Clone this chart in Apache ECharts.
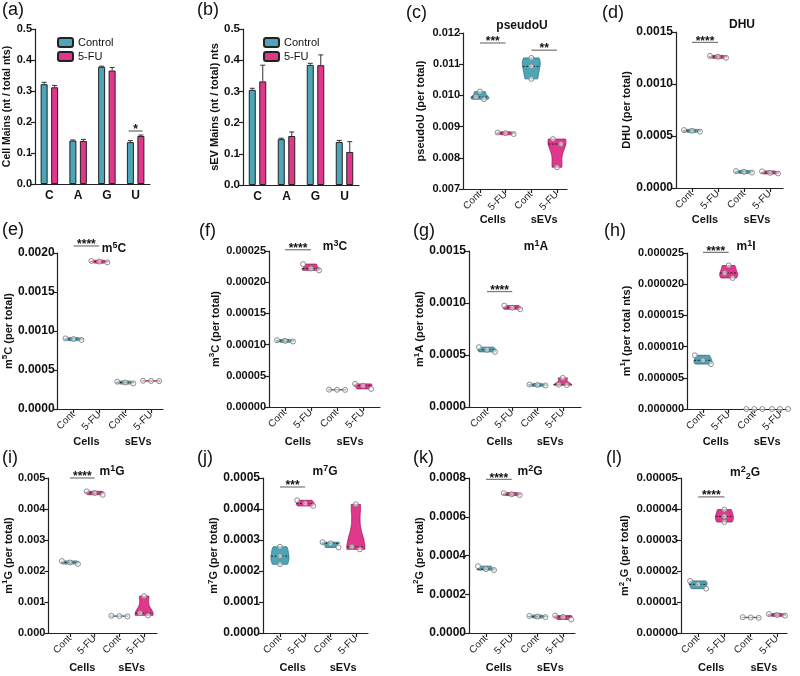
<!DOCTYPE html>
<html><head><meta charset="utf-8">
<script src="https://cdn.jsdelivr.net/npm/echarts@6/dist/echarts.min.js"></script>
<style>html,body{margin:0;padding:0;background:#fff}#c{width:800px;height:676px}</style>
</head><body><div id="c"></div>
<script>
// ---------------- DATA ----------------
const barCategories = ['C', 'A', 'G', 'U'];
const cellControl    = [0.322, 0.140, 0.378, 0.135];
const cellControlErr = [0.006, 0.002, 0.002, 0.005];
const cell5FU        = [0.312, 0.139, 0.366, 0.155];
const cell5FUErr     = [0.006, 0.005, 0.010, 0.003];
const sevControl     = [0.305, 0.147, 0.385, 0.138];
const sevControlErr  = [0.005, 0.003, 0.005, 0.005];
const sev5FU         = [0.332, 0.157, 0.384, 0.106];
const sev5FUErr      = [0.052, 0.013, 0.033, 0.033];
const sigCellMains = [[3, 0.171, '*']];
const sigSevMains = [];

const groupLabels = ['Cont', '5-FU', 'Cont', '5-FU'];
const sampleLabels = ['Cells', 'sEVs'];

// each: [Cells Cont, Cells 5-FU, sEVs Cont, sEVs 5-FU], three replicates each
const pseudoU = [[0.00988, 0.00995, 0.01012], [0.00876, 0.00879, 0.00881], [0.01053, 0.01093, 0.01120], [0.00770, 0.00844, 0.00860]];
const dhu     = [[0.000542, 0.000550, 0.000557], [0.001252, 0.001262, 0.001270], [0.000148, 0.000155, 0.000162], [0.000140, 0.000146, 0.000160]];
const m5C     = [[0.000885, 0.000897, 0.000905], [0.001880, 0.001890, 0.001898], [0.000328, 0.000340, 0.000350], [0.000358, 0.000360, 0.000362]];
const m3C     = [[0.000105, 0.000106, 0.000107], [0.000219, 0.000222, 0.000229], [0.0000274, 0.0000276, 0.0000278], [0.000029, 0.000034, 0.000037]];
const m1A     = [[0.000530, 0.000550, 0.000575], [0.000940, 0.000955, 0.000975], [0.000207, 0.000212, 0.000216], [0.000210, 0.000215, 0.000280]];
const m1I     = [[0.0000072, 0.0000078, 0.0000086], [0.0000210, 0.0000218, 0.0000230], [0, 0, 0], [0, 0, 0]];
const m1G     = [[0.002230, 0.002275, 0.002320], [0.004460, 0.004520, 0.004570], [0.000535, 0.000545, 0.000555], [0.00057, 0.00064, 0.00119]];
const m7G     = [[0.000222, 0.000248, 0.000278], [0.000410, 0.000418, 0.000428], [0.000276, 0.000289, 0.000293], [0.000270, 0.000278, 0.000415]];
const m2G     = [[0.000325, 0.000330, 0.000345], [0.000712, 0.000716, 0.000722], [0.000082, 0.000085, 0.000088], [0.000070, 0.000083, 0.000090]];
const m22G    = [[0.0000143, 0.0000157, 0.0000168], [0.0000358, 0.0000376, 0.0000398], [0.0000049, 0.0000050, 0.0000051], [0.0000056, 0.0000058, 0.0000061]];

// significance: [group a, group b, y level, label]
const sigPseudoU = [[1, 2, 0.01168, '***'], [3, 4, 0.01145, '**']];
const sigDHU  = [[1, 2, 0.00140, '****']];
const sigM5C  = [[1, 2, 0.00209, '****']];
const sigM3C  = [[1, 2, 0.000252, '****']];
const sigM1A  = [[1, 2, 0.00111, '****']];
const sigM1I  = [[1, 2, 0.0000251, '****']];
const sigM1G  = [[1, 2, 0.00500, '****']];
const sigM7G  = [[1, 2, 0.000471, '***']];
const sigM2G  = [[1, 2, 0.000793, '****']];
const sigM22G = [[1, 2, 0.0000439, '****']];

// ---------------- STYLE / LAYOUT ----------------
const FONT = '"Liberation Sans", Arial, Helvetica, sans-serif';
const TEAL = '#4CA6B8', MAG = '#E0378C';
const TEAL_EDGE = '#2B6F7E', MAG_EDGE = '#9E1C5C';
const AX = '#222';

const barPanels = [
  {ctrl: cellControl, ctrlErr: cellControlErr, fu: cell5FU, fuErr: cell5FUErr, sig: sigCellMains, fs: 11,
   grid: {left: 35, top: 29, width: 115, height: 155}, name: 'Cell Mains (nt / total nts)', nameSize: 10.5, nameGap: 15, legendLeft: 52, label: '(a)', lx: 2, ly: 1},
  {ctrl: sevControl, ctrlErr: sevControlErr, fu: sev5FU, fuErr: sev5FUErr, sig: sigSevMains, fs: 11.5,
   grid: {left: 243, top: 29, width: 116, height: 156}, name: 'sEV Mains (nt / total) nts', nameSize: 11, nameGap: 20, legendLeft: 258, label: '(b)', lx: 197, ly: 1}
];

const violinPanels = [
  {data: pseudoU, sig: sigPseudoU, grid: {left: 463, top: 33, width: 104, height: 156}, xmin: 0.34, xmax: 4.39, ymin: 0.007, ymax: 0.012, step: 0.001, dec: 3, fs: 11,
   name: '{n|pseudoU (per total)}', nameGap: 35, title: '{n|pseudoU}', tx: 522, ty: 26, row: 0, label: '(c)', lx: 406, ly: 4},
  {data: dhu, sig: sigDHU, grid: {left: 676, top: 32, width: 107, height: 156}, xmin: 0.385, xmax: 4.5, ymin: 0, ymax: 0.0015, step: 0.0005, dec: 4, fs: 12,
   name: '{n|DHU (per total)}', nameGap: 41, title: '{n|DHU}', tx: 742, ty: 25, row: 0, label: '(d)', lx: 602, ly: 4},
  {data: m5C, sig: sigM5C, grid: {left: 57, top: 253, width: 106, height: 156}, xmin: 0.385, xmax: 4.46, ymin: 0, ymax: 0.002, step: 0.0005, dec: 4, fs: 12,
   name: '{n|m}{s|5}{n|C (per total)}', nameGap: 39, title: '{n|m}{s|5}{n|C}', tx: 114, ty: 249, row: 1, label: '(e)', lx: 2, ly: 221},
  {data: m3C, sig: sigM3C, grid: {left: 269, top: 251, width: 111, height: 156}, xmin: 0.385, xmax: 4.65, ymin: 0, ymax: 0.00025, step: 0.00005, dec: 5, fs: 11,
   name: '{n|m}{s|3}{n|C (per total)}', nameGap: 46, title: '{n|m}{s|3}{n|C}', tx: 335, ty: 247, row: 1, label: '(f)', lx: 199, ly: 222},
  {data: m1A, sig: sigM1A, grid: {left: 469, top: 251, width: 112, height: 156}, xmin: 0.29, xmax: 4.72, ymin: 0, ymax: 0.0015, step: 0.0005, dec: 4, fs: 12,
   name: '{n|m}{s|1}{n|A (per total)}', nameGap: 40, title: '{n|m}{s|1}{n|A}', tx: 536, ty: 247, row: 1, label: '(g)', lx: 413, ly: 222},
  {data: m1I, sig: sigM1I, grid: {left: 687, top: 253, width: 100, height: 156}, xmin: 0.38, xmax: 4.27, ymin: 0, ymax: 0.000025, step: 0.000005, dec: 6, fs: 11,
   name: '{n|m}{s|1}{n|I (per total nts)}', nameGap: 53, title: '{n|m}{s|1}{n|I}', tx: 746, ty: 247, row: 1, label: '(h)', lx: 604, ly: 222},
  {data: m1G, sig: sigM1G, grid: {left: 46, top: 478, width: 111, height: 155}, xmin: 0.13, xmax: 4.52, ymin: 0, ymax: 0.005, step: 0.001, dec: 3, fs: 11,
   name: '{n|m}{s|1}{n|G (per total)}', nameGap: 32, title: '{n|m}{s|1}{n|G}', tx: 112, ty: 472, row: 2, label: '(i)', lx: 2, ly: 449},
  {data: m7G, sig: sigM7G, grid: {left: 263, top: 478, width: 105, height: 155}, xmin: 0.33, xmax: 4.48, ymin: 0, ymax: 0.0005, step: 0.0001, dec: 4, fs: 12,
   name: '{n|m}{s|7}{n|G (per total)}', nameGap: 41, title: '{n|m}{s|7}{n|G}', tx: 325, ty: 472, row: 2, label: '(j)', lx: 197, ly: 449},
  {data: m2G, sig: sigM2G, grid: {left: 469, top: 478, width: 106, height: 155}, xmin: 0.34, xmax: 4.46, ymin: 0, ymax: 0.0008, step: 0.0002, dec: 4, fs: 12,
   name: '{n|m}{s|2}{n|G (per total)}', nameGap: 42, title: '{n|m}{s|2}{n|G}', tx: 530, ty: 472, row: 2, label: '(k)', lx: 413, ly: 449},
  {data: m22G, sig: sigM22G, grid: {left: 681, top: 478, width: 106, height: 155}, xmin: 0.35, xmax: 4.38, ymin: 0, ymax: 0.00005, step: 0.00001, dec: 5, fs: 11.5,
   name: '{n|m}{s|2}{b|2}{n|G (per total)}', nameGap: 46, title: '{n|m}{s|2}{b|2}{n|G}', tx: 745, ty: 473, row: 2, label: '(l)', lx: 606, ly: 449}
];
const rowLabelY = [220, 442, 668];

function richSet(size, key) {
  const c = {};
  c[key] = '#111';
  const base = {fontFamily: FONT, fontWeight: 'bold'};
  return {
    n: Object.assign({fontSize: size, lineHeight: size + 4}, base, c),
    s: Object.assign({fontSize: size - 3, lineHeight: size - 3, verticalAlign: 'top'}, base, c),
    b: Object.assign({fontSize: size - 3, lineHeight: size - 3, verticalAlign: 'bottom'}, base, c)
  };
}

// ---------------- BUILD ----------------
const chart = echarts.init(document.getElementById('c'));
const option = {animation: false, backgroundColor: '#fff', textStyle: {fontFamily: FONT},
  grid: [], xAxis: [], yAxis: [], series: [], legend: []};

const axisLine = {show: true, lineStyle: {color: AX, width: 1.2}};
const axisTick = {show: true, length: 4, lineStyle: {color: AX, width: 1.2}};

let gi = 0;
barPanels.forEach(p => {
  option.grid.push(Object.assign({containLabel: false}, p.grid));
  option.xAxis.push({type: 'category', gridIndex: gi, data: barCategories, axisLine, axisTick: {show: false},
    axisLabel: {color: '#111', fontWeight: 'bold', fontSize: 12, margin: 6, fontFamily: FONT}});
  option.yAxis.push({type: 'value', gridIndex: gi, min: 0, max: 0.5, interval: 0.1, axisLine, axisTick, splitLine: {show: false},
    axisLabel: {color: '#111', fontWeight: 'bold', fontSize: p.fs, margin: 3, fontFamily: FONT, formatter: v => v.toFixed(1)},
    name: p.name, nameLocation: 'middle', nameRotate: 90, nameGap: p.nameGap,
    nameTextStyle: {fontWeight: 'bold', fontSize: p.nameSize, color: '#111', fontFamily: FONT}});
  const common = {type: 'bar', xAxisIndex: gi, yAxisIndex: gi, barWidth: 7, barGap: '50%'};
  option.series.push(Object.assign({name: 'Control', data: p.ctrl, itemStyle: {color: TEAL, borderColor: '#222', borderWidth: 1}}, common));
  option.series.push(Object.assign({name: '5-FU', data: p.fu, itemStyle: {color: MAG, borderColor: '#222', borderWidth: 1}}, common));
  const errData = [];
  p.ctrl.forEach((v, i) => errData.push([i, v, p.ctrlErr[i], -1]));
  p.fu.forEach((v, i) => errData.push([i, v, p.fuErr[i], 1]));
  option.series.push({type: 'custom', xAxisIndex: gi, yAxisIndex: gi, data: errData, z: 5,
    renderItem: (params, api) => {
      const c0 = api.coord([api.value(0), api.value(1)]);
      const c1 = api.coord([api.value(0), api.value(1) + api.value(2)]);
      const x = c0[0] + api.value(3) * 5.25;
      return {type: 'group', children: [
        {type: 'line', shape: {x1: x, y1: c0[1], x2: x, y2: c1[1]}, style: {stroke: '#333', lineWidth: 1}},
        {type: 'line', shape: {x1: x - 2.5, y1: c1[1], x2: x + 2.5, y2: c1[1]}, style: {stroke: '#333', lineWidth: 1}}
      ]};
    }});
  const sig = p.sig;
  if (sig.length) {
    option.series.push({type: 'custom', xAxisIndex: gi, yAxisIndex: gi, data: sig.map(s => [s[0], s[1]]), z: 6,
      renderItem: (params, api) => {
        const s = sig[params.dataIndex];
        const c = api.coord([s[0], s[1]]);
        return {type: 'group', children: [
          {type: 'line', shape: {x1: c[0] - 7, y1: c[1], x2: c[0] + 7, y2: c[1]}, style: {stroke: '#666', lineWidth: 1.2}},
          {type: 'text', style: {text: s[2], x: c[0], y: c[1] - 7, align: 'center', verticalAlign: 'top', font: 'bold 12px ' + FONT, fill: '#111'}}
        ]};
      }});
  }
  option.legend.push({data: ['Control', '5-FU'], orient: 'vertical', left: p.legendLeft, top: 32, itemWidth: 15, itemHeight: 9,
    itemGap: 3, selectedMode: false, textStyle: {fontSize: 11, color: '#111', fontFamily: FONT}});
  gi++;
});

function violinRender(params, api) {
  const gx = api.value(0);
  const vals = [api.value(1), api.value(2), api.value(3)].sort((a, b) => a - b);
  const ctrl = (Math.round(gx) % 2) === 1;
  const fill = ctrl ? TEAL : MAG, edge = ctrl ? TEAL_EDGE : MAG_EDGE;
  const cx = api.coord([gx, vals[0]])[0];
  const py = vals.map(v => api.coord([gx, v])[1]);
  const HW = 9;
  const kids = [];
  const range = py[0] - py[2];
  if (range >= 0.8) {
    let top = py[2], bot = py[0];
    if (bot - top < 3) { const m = (top + bot) / 2; top = m - 1.5; bot = m + 1.5; }
    const h = Math.max((bot - top) / 3, 0.8);
    const N = 40, ys = [], ds = [];
    for (let i = 0; i <= N; i++) {
      const y = top + (bot - top) * i / N;
      let d = 0;
      py.forEach(p => { d += Math.exp(-0.5 * Math.pow((y - p) / h, 2)); });
      ys.push(y); ds.push(d);
    }
    const dmax = Math.max.apply(null, ds);
    const ws = ds.map(d => HW * d / dmax);
    const poly = [];
    for (let i = 0; i <= N; i++) poly.push([cx + ws[i], ys[i]]);
    for (let i = N; i >= 0; i--) poly.push([cx - ws[i], ys[i]]);
    kids.push({type: 'polygon', shape: {points: poly}, style: {fill: fill, stroke: edge, lineWidth: 0.8}});
    let mi = Math.round((py[1] - top) / (bot - top) * N);
    mi = Math.max(0, Math.min(N, mi));
    const mw = ws[mi];
    kids.push({type: 'line', shape: {x1: cx - mw, y1: py[1], x2: cx + mw, y2: py[1]}, style: {stroke: '#222', lineWidth: 1, lineDash: [2, 1.5]}});
  } else if (range > 0) {
    kids.push({type: 'line', shape: {x1: cx - HW, y1: py[1], x2: cx + HW, y2: py[1]}, style: {stroke: edge, lineWidth: 1.4}});
  }
  const sorted = py.slice().sort((a, b) => a - b);
  const clusters = [];
  sorted.forEach(p => {
    const last = clusters[clusters.length - 1];
    if (last && p - last[last.length - 1] < 5) last.push(p); else clusters.push([p]);
  });
  clusters.forEach(cl => {
    cl.forEach((p, i) => {
      const dx = (i - (cl.length - 1) / 2) * 8;
      kids.push({type: 'circle', shape: {cx: cx + dx, cy: p, r: 2.5}, style: {fill: 'rgba(255,255,255,0.55)', stroke: '#808080', lineWidth: 0.9}});
    });
  });
  return {type: 'group', children: kids};
}

violinPanels.forEach(p => {
  option.grid.push(Object.assign({containLabel: false}, p.grid));
  option.xAxis.push({type: 'value', gridIndex: gi, min: p.xmin, max: p.xmax, axisLine, splitLine: {show: false},
    axisTick: Object.assign({customValues: [1, 2, 3, 4]}, axisTick),
    axisLabel: {customValues: [1, 2, 3, 4], formatter: v => groupLabels[Math.round(v) - 1] || '', rotate: 45, margin: 4,
      fontSize: 10, color: '#222', fontFamily: FONT}});
  option.yAxis.push({type: 'value', gridIndex: gi, min: p.ymin, max: p.ymax, interval: p.step, axisLine, axisTick, splitLine: {show: false},
    axisLabel: {color: '#111', fontWeight: 'bold', fontSize: p.fs, margin: 3, fontFamily: FONT, formatter: v => v.toFixed(p.dec)},
    name: p.name, nameLocation: 'middle', nameRotate: 90, nameGap: p.nameGap,
    nameTextStyle: {rich: richSet(11, 'color')}});
  option.series.push({type: 'custom', xAxisIndex: gi, yAxisIndex: gi, z: 4,
    data: p.data.map((g, i) => [i + 1, g[0], g[1], g[2]]), renderItem: violinRender});
  const sig = p.sig;
  option.series.push({type: 'custom', xAxisIndex: gi, yAxisIndex: gi, z: 6, data: sig.map(s => [s[0], s[2]]),
    renderItem: (params, api) => {
      const s = sig[params.dataIndex];
      const a = api.coord([s[0], s[2]]), b = api.coord([s[1], s[2]]);
      return {type: 'group', children: [
        {type: 'line', shape: {x1: a[0], y1: a[1], x2: b[0], y2: b[1]}, style: {stroke: '#777', lineWidth: 1.2}},
        {type: 'text', style: {text: s[3], x: (a[0] + b[0]) / 2, y: a[1] - 7, align: 'center', verticalAlign: 'top', font: 'bold 12px ' + FONT, fill: '#111'}}
      ]};
    }});
  gi++;
});

chart.setOption(option);

const graphics = [];
barPanels.forEach(p => {
  graphics.push({type: 'text', style: {text: p.label, x: p.lx, y: p.ly, font: '18px ' + FONT, fill: '#111', verticalAlign: 'top'}});
});
violinPanels.forEach((p, k) => {
  const idx = k + barPanels.length;
  graphics.push({type: 'text', style: {text: p.label, x: p.lx, y: p.ly, font: '18px ' + FONT, fill: '#111', verticalAlign: 'top'}});
  graphics.push({type: 'text', style: {text: p.title, x: p.tx, y: p.ty, align: 'center', verticalAlign: 'middle', rich: richSet(12, 'fill')}});
  const xa = chart.convertToPixel({xAxisIndex: idx}, 1.5);
  const xb = chart.convertToPixel({xAxisIndex: idx}, 3.5);
  [xa, xb].forEach((x, j) => {
    graphics.push({type: 'text', style: {text: sampleLabels[j], x: x, y: rowLabelY[p.row], align: 'center', verticalAlign: 'middle',
      font: 'bold 11px ' + FONT, fill: '#111'}});
  });
});
chart.setOption({graphic: graphics});
</script>
</body></html>
